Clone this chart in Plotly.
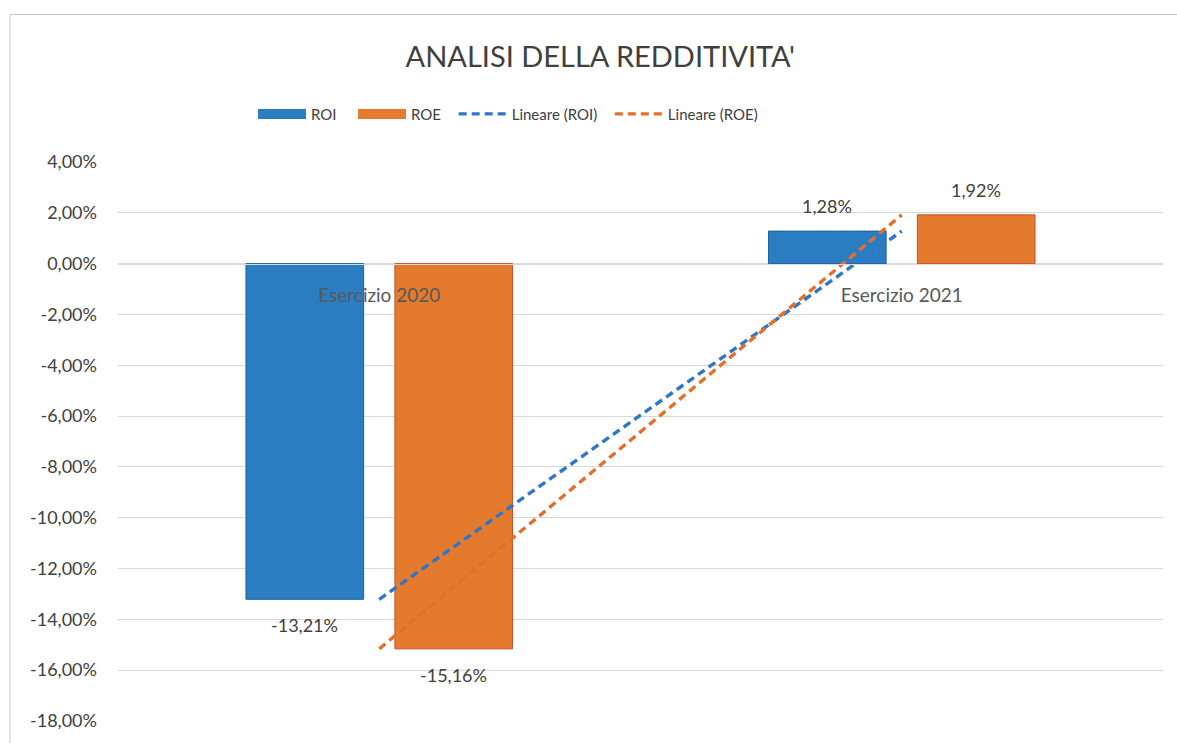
import numpy as np
import plotly.graph_objects as go

categories = ["Esercizio 2020", "Esercizio 2021"]
roi = [-0.1321, 0.0128]
roe = [-0.1516, 0.0192]
y_ticks = [0.04, 0.02, 0.0, -0.02, -0.04, -0.06, -0.08, -0.10, -0.12, -0.14, -0.16, -0.18]


def pct(v):
    return f"{v * 100:.2f}%".replace(".", ",")


y_tick_labels = [pct(v) for v in y_ticks]

BLUE = "#2A7DC1"
ORANGE = "#E47A2E"
TXT = "#404040"
FONT = "Lato"
PAD3 = "\u00a0\u00a0\u00a0"
PAD2 = "\u00a0\u00a0"

xi = np.arange(len(categories))
roi_fit = np.polyval(np.polyfit(xi, roi, 1), xi)
roe_fit = np.polyval(np.polyfit(xi, roe, 1), xi)

L, R, T, B = 118, 14, 162, 20
W, H = 1177, 743
plot_w = W - L - R
plot_h = H - T - B
ymin, ymax = -0.18, 0.04
zero_pos = (0 - ymin) / (ymax - ymin)
BARGAP, GROUPGAP = 0.43, 0.21

fig = go.Figure()
fig.add_trace(go.Bar(
    name="ROI", x=categories, y=roi, showlegend=False,
    marker=dict(color=BLUE, line=dict(color="#1D5FA3", width=1)),
))
fig.add_trace(go.Bar(
    name="ROE", x=categories, y=roe, showlegend=False,
    marker=dict(color=ORANGE, line=dict(color="#C9502A", width=1)),
))
# legend swatches for the bar series
fig.add_trace(go.Scatter(name="ROI" + PAD3, x=[None], y=[None], mode="lines",
                         line=dict(color=BLUE, width=13), hoverinfo="skip"))
fig.add_trace(go.Scatter(name="ROE" + PAD2, x=[None], y=[None], mode="lines",
                         line=dict(color=ORANGE, width=13), hoverinfo="skip"))
fig.add_trace(go.Scatter(
    name="Lineare (ROI)" + PAD2, x=categories, y=roi_fit, mode="lines",
    line=dict(color="#2F76C8", width=3.4, dash="8px,5px"),
))
fig.add_trace(go.Scatter(
    name="Lineare (ROE)", x=categories, y=roe_fit, mode="lines",
    line=dict(color="#E2702C", width=3.4, dash="8px,5px"),
))

# data labels placed just beyond each bar end
band = plot_w / len(categories)
slot = band * (1 - BARGAP) / 2
annotations = []
for series, sign in ((roi, -1), (roe, 1)):
    for cat, v in zip(categories, series):
        annotations.append(dict(
            x=cat, y=v, xref="x", yref="y", text=pct(v), showarrow=False,
            xshift=sign * slot / 2, yshift=25 if v >= 0 else -26,
            yanchor="middle", font=dict(size=18, color=TXT, family=FONT)))

fig.update_layout(
    width=W, height=H,
    margin=dict(l=L, r=R, t=T, b=B),
    paper_bgcolor="white", plot_bgcolor="white",
    separators=",.",
    font=dict(family=FONT, color=TXT, size=15),
    barmode="group", bargap=BARGAP, bargroupgap=GROUPGAP,
    title=dict(text="ANALISI DELLA REDDITIVITA'", x=0.51, xref="container",
               y=1 - 57 / H, yanchor="middle", yref="container",
               font=dict(size=29, color="#404040", family=FONT)),
    legend=dict(orientation="h", x=(253 - L) / plot_w, xanchor="left",
                y=1 + (T - 114) / plot_h, yanchor="middle",
                font=dict(size=15, color=TXT, family=FONT),
                itemwidth=48, traceorder="normal", bgcolor="rgba(0,0,0,0)"),
    showlegend=True,
    annotations=annotations,
)
fig.update_yaxes(range=[ymin, ymax], tickvals=y_ticks, ticktext=y_tick_labels,
                 showgrid=True, gridcolor="#D9D9D9", gridwidth=1,
                 zeroline=False, showline=False, ticks="",
                 tickfont=dict(size=18, color="#404040", family=FONT),
                 ticklabelstandoff=20)
fig.update_xaxes(anchor="free", position=zero_pos, showgrid=False,
                 showline=True, linecolor="#D9D9D9", linewidth=1,
                 ticks="", ticklabelstandoff=15, layer="above traces",
                 tickfont=dict(size=19, color="#595959", family=FONT))
fig.add_shape(type="rect", xref="paper", yref="paper",
              x0=(10 - L) / plot_w, x1=(W + 5 - L) / plot_w,
              y0=-1, y1=1 + (T - 14) / plot_h,
              line=dict(color="#C8C8C8", width=1), layer="below")

fig.write_html("out.html", config={"displayModeBar": False},
               post_script="document.body.style.margin='0';")
